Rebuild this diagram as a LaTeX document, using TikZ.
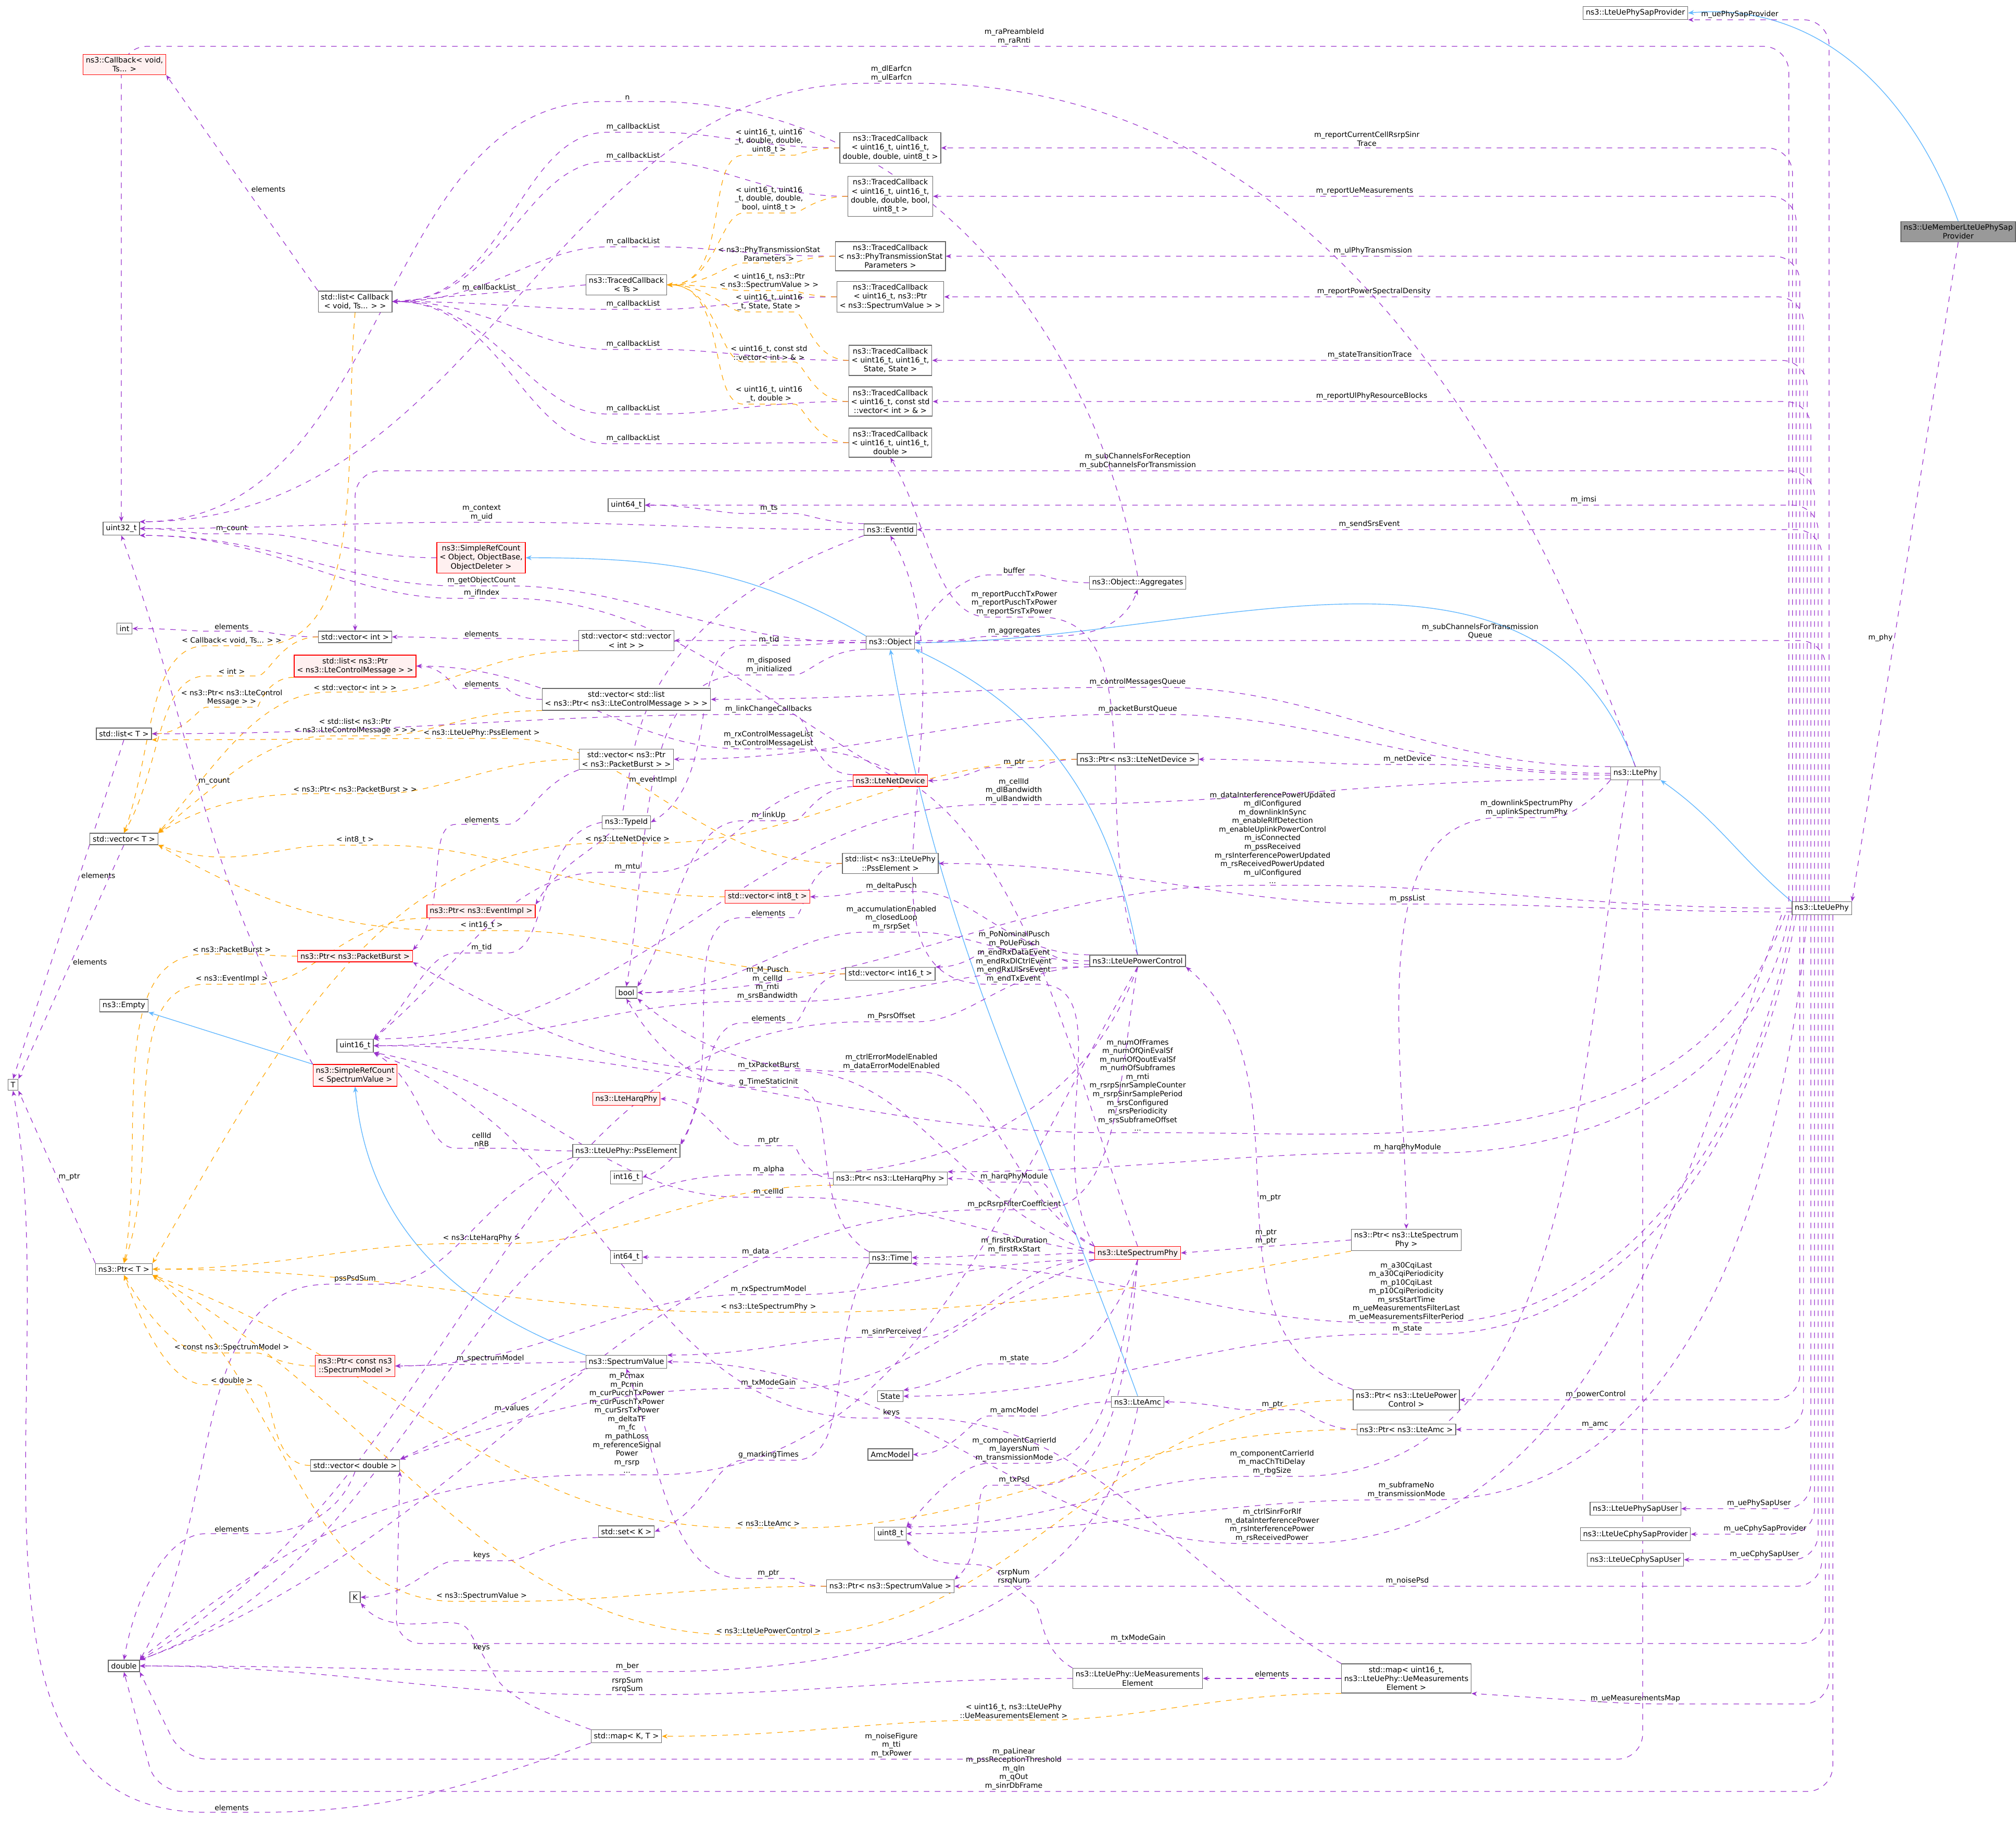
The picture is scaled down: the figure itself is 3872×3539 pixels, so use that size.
\documentclass[tikz,border=0pt]{standalone}
\usepackage{fontspec}
\setmainfont{DejaVu Sans}
\usetikzlibrary{arrows.meta,positioning,backgrounds}
\definecolor{usecol}{HTML}{9A32CD}
\definecolor{instcol}{HTML}{FFA500}
\definecolor{inhcol}{HTML}{63B8FF}
\tikzset{
  cls/.style={draw=black!60,fill=white,rectangle,inner sep=1.5pt,align=center,
    font=\fontsize{4.1}{4.9}\selectfont},
  redcls/.style={cls,draw=red,fill=red!6},
  graycls/.style={cls,fill=black!40},
  usee/.style={draw=usecol,dashed,-{Stealth[length=3pt,width=2.4pt]},line width=0.35pt,rounded corners=14pt},
  inst/.style={draw=instcol,dashed,-{Stealth[length=3pt,width=2.4pt]},line width=0.35pt,rounded corners=14pt},
  inh/.style={draw=inhcol,-{Stealth[length=3.2pt,width=2.6pt]},line width=0.4pt},
  lab/.style={font=\fontsize{4}{4.7}\selectfont,align=center,inner sep=0.8pt,text=black},
  leftward/.style={out=180,in=0}
}
\begin{document}
\catcode`\_=12
\begin{tikzpicture}[x=0.01cm,y=-0.01cm]
\useasboundingbox (0,0) rectangle (3872,3539);
% classes
\node[cls] (sapprov) at (3141,25) {ns3::LteUePhySapProvider};
\node[graycls] (member) at (3761,445) {ns3::UeMemberLteUePhySap\\Provider};
\node[redcls] (callback) at (239,124) {ns3::Callback< void,\\ Ts... >};
\node[cls] (tcbrsrp) at (1710,284) {ns3::TracedCallback\\< uint16_t, uint16_t,\\ double, double, uint8_t >};
\node[cls] (tcbmeas) at (1710,377) {ns3::TracedCallback\\< uint16_t, uint16_t,\\ double, double, bool,\\ uint8_t >};
\node[cls] (tcbtx) at (1710,492) {ns3::TracedCallback\\< ns3::PhyTransmissionStat\\Parameters >};
\node[cls] (tcbts) at (1203,547) {ns3::TracedCallback\\< Ts >};
\node[cls] (cblist) at (682,579) {std::list< Callback\\< void, Ts... > >};
\node[cls] (tcbpsd) at (1710,570) {ns3::TracedCallback\\< uint16_t, ns3::Ptr\\< ns3::SpectrumValue > >};
\node[cls] (tcbstate) at (1710,692) {ns3::TracedCallback\\< uint16_t, uint16_t,\\ State, State >};
\node[cls] (tcbvec) at (1710,771) {ns3::TracedCallback\\< uint16_t, const std\\::vector< int > \& >};
\node[cls] (tcbdbl) at (1710,850) {ns3::TracedCallback\\< uint16_t, uint16_t,\\ double >};
\node[cls] (uintsixfour) at (1203,970) {uint64_t};
\node[cls] (uintthirtytwo) at (233,1015) {uint32_t};
\node[cls] (eventid) at (1710,1017) {ns3::EventId};
\node[redcls] (refobj) at (924,1071) {ns3::SimpleRefCount\\< Object, ObjectBase,\\ ObjectDeleter >};
\node[cls] (aggr) at (2185,1119) {ns3::Object::Aggregates};
\node[cls] (int) at (239,1207) {int};
\node[cls] (vecint) at (682,1223) {std::vector< int >};
\node[cls] (vecvecint) at (1203,1230) {std::vector< std::vector\\< int > >};
\node[cls] (object) at (1710,1234) {ns3::Object};
\node[redcls] (listctrl) at (682,1279) {std::list< ns3::Ptr\\< ns3::LteControlMessage > >};
\node[cls] (veclistctrl) at (1203,1343) {std::vector< std::list\\< ns3::Ptr< ns3::LteControlMessage > > >};
\node[cls] (listt) at (238,1409) {std::list< T >};
\node[cls] (vecburst) at (1203,1458) {std::vector< ns3::Ptr\\< ns3::PacketBurst > >};
\node[cls] (ptrnetdev) at (2185,1458) {ns3::Ptr< ns3::LteNetDevice >};
\node[redcls] (netdev) at (1710,1499) {ns3::LteNetDevice};
\node[cls] (ltephy) at (3141,1485) {ns3::LtePhy};
\node[cls] (vect) at (238,1611) {std::vector< T >};
\node[cls] (typeid) at (1203,1579) {ns3::TypeId};
\node[cls] (listpss) at (1710,1658) {std::list< ns3::LteUePhy\\::PssElement >};
\node[redcls] (ptrevent) at (924,1750) {ns3::Ptr< ns3::EventImpl >};
\node[redcls] (vecinteight) at (1474,1722) {std::vector< int8_t >};
\node[cls] (uephy) at (3499,1744) {ns3::LteUePhy};
\node[cls] (empty) at (238,1931) {ns3::Empty};
\node[redcls] (ptrburst) at (682,1836) {ns3::Ptr< ns3::PacketBurst >};
\node[cls] (vecintsixteen) at (1710,1870) {std::vector< int16_t >};
\node[cls] (powerctrl) at (2185,1845) {ns3::LteUePowerControl};
\node[cls] (bool) at (1203,1906) {bool};
\node[cls] (uintsixteen) at (682,2008) {uint16_t};
\node[redcls] (refspec) at (682,2065) {ns3::SimpleRefCount\\< SpectrumValue >};
\node[cls] (t) at (25,2083) {T};
\node[redcls] (harq) at (1203,2110) {ns3::LteHarqPhy};
\node[cls] (psselem) at (1203,2210) {ns3::LteUePhy::PssElement};
\node[cls] (intsixteen) at (1203,2261) {int16_t};
\node[cls] (ptrharq) at (1710,2263) {ns3::Ptr< ns3::LteHarqPhy >};
\node[cls] (ptrt) at (238,2437) {ns3::Ptr< T >};
\node[cls] (intsixfour) at (1203,2414) {int64_t};
\node[cls] (time) at (1710,2415) {ns3::Time};
\node[redcls] (specphy) at (2185,2406) {ns3::LteSpectrumPhy};
\node[cls] (ptrspecphy) at (2701,2381) {ns3::Ptr< ns3::LteSpectrum\\Phy >};
\node[redcls] (ptrmodel) at (682,2623) {ns3::Ptr< const ns3\\::SpectrumModel >};
\node[cls] (specval) at (1203,2615) {ns3::SpectrumValue};
\node[cls] (state) at (1710,2681) {State};
\node[cls] (amc) at (2185,2692) {ns3::LteAmc};
\node[cls] (ptrpower) at (2701,2688) {ns3::Ptr< ns3::LteUePower\\Control >};
\node[cls] (amcmodel) at (1710,2793) {AmcModel};
\node[cls] (ptramc) at (2701,2745) {ns3::Ptr< ns3::LteAmc >};
\node[cls] (vecdouble) at (682,2814) {std::vector< double >};
\node[cls] (uinteight) at (1710,2945) {uint8_t};
\node[cls] (setk) at (1203,2941) {std::set< K >};
\node[cls] (sapuser) at (3141,2897) {ns3::LteUePhySapUser};
\node[cls] (cprov) at (3141,2946) {ns3::LteUeCphySapProvider};
\node[cls] (cuser) at (3141,2995) {ns3::LteUeCphySapUser};
\node[cls] (k) at (682,3067) {K};
\node[cls] (ptrspecval) at (1710,3046) {ns3::Ptr< ns3::SpectrumValue >};
\node[cls] (double) at (238,3199) {double};
\node[cls] (measelem) at (2185,3223) {ns3::LteUePhy::UeMeasurements\\Element};
\node[cls] (measmap) at (2701,3223) {std::map< uint16_t,\\ ns3::LteUePhy::UeMeasurements\\Element >};
\node[cls] (mapkt) at (1203,3334) {std::map< K, T >};
\begin{scope}[on background layer]
% inheritance
\draw[inh] (member.north) to[out=110,in=5] (sapprov.east);
\draw[inh] (uephy.north west) to[out=140,in=-35] (ltephy.south east);
\draw[inh] (ltephy.north) to[out=110,in=0] (object.east);
\draw[inh] (powerctrl.north) to[out=100,in=-25] (object.south east);
\draw[inh] (amc.north) to[out=110,in=-80] (object.south);
\draw[inh] (object.north west) to[out=150,in=0] (refobj.east);
\draw[inh] (refspec.north west) -- (empty.south east);
\draw[inh] (specval.north west) to[out=160,in=-85] (refspec.south);
% members of LteUePhy
\draw[usee] (member.south) -- node[lab,pos=0.6,left]{m_phy} (uephy.north east);
\draw[usee] ([xshift=4pt]uephy.north) |- node[lab,pos=0.96,above right]{m_uePhySapProvider} (sapprov.south east);
\draw[usee] ([xshift=-18pt]uephy.north) |- (1948,89) node[lab,above]{m_raPreambleId\\m_raRnti} -- (233,89) -- (uintthirtytwo.north);
\draw[usee] ([xshift=-16pt]uephy.north) |- node[lab,pos=0.75,above]{m_reportCurrentCellRsrpSinr\\Trace} (tcbrsrp.east);
\draw[usee] ([xshift=-14pt]uephy.north) |- node[lab,pos=0.75,above]{m_reportUeMeasurements} (tcbmeas.east);
\draw[usee] ([xshift=-12pt]uephy.north) |- node[lab,pos=0.75,above]{m_ulPhyTransmission} (tcbtx.east);
\draw[usee] ([xshift=-10pt]uephy.north) |- node[lab,pos=0.75,above]{m_reportPowerSpectralDensity} (tcbpsd.east);
\draw[usee] ([xshift=-8pt]uephy.north) |- node[lab,pos=0.75,above]{m_stateTransitionTrace} (tcbstate.east);
\draw[usee] ([xshift=-6pt]uephy.north) |- node[lab,pos=0.75,above]{m_reportUlPhyResourceBlocks} (tcbvec.east);
\draw[usee] ([xshift=-4pt]uephy.north) |- (2185,904) node[lab,above]{m_subChannelsForReception\\m_subChannelsForTransmission} -- (682,904) -- (vecint.north);
\draw[usee] ([xshift=-2pt]uephy.north) |- node[lab,pos=0.6,above]{m_imsi} (uintsixfour.east);
\draw[usee] ([xshift=0pt]uephy.north) |- node[lab,pos=0.75,above]{m_sendSrsEvent} (eventid.east);
\draw[usee] ([xshift=2pt]uephy.north) |- node[lab,pos=0.65,above]{m_subChannelsForTransmission\\Queue} (vecvecint.east);
\draw[usee] (uephy.west) to[leftward] (2444,1700) node[lab,above]{m_dataInterferencePowerUpdated\\m_dlConfigured\\m_downlinkInSync\\m_enableRlfDetection\\m_enableUplinkPowerControl\\m_isConnected\\m_pssReceived\\m_rsInterferencePowerUpdated\\m_rsReceivedPowerUpdated\\m_ulConfigured\\...} to[leftward] (bool.east);
\draw[usee] ([yshift=-2pt]uephy.west) to[leftward] (2703,1736) node[lab,above]{m_pssList} to[leftward] (listpss.east);
\draw[usee] ([xshift=-20pt]uephy.south) to[out=-110,in=0] (2185,2175) node[lab,above]{m_numOfFrames\\m_numOfQinEvalSf\\m_numOfQoutEvalSf\\m_numOfSubframes\\m_rnti\\m_rsrpSinrSampleCounter\\m_rsrpSinrSamplePeriod\\m_srsConfigured\\m_srsPeriodicity\\m_srsSubframeOffset\\...} to[leftward] (uintsixteen.east);
\draw[usee] ([xshift=-18pt]uephy.south) to[out=-100,in=0] (2703,2214) node[lab,above]{m_harqPhyModule} to[leftward] (ptrharq.north east);
\draw[usee] ([xshift=-16pt]uephy.south) to[out=-100,in=0] (2701,2540) node[lab,above]{m_a30CqiLast\\m_a30CqiPeriodicity\\m_p10CqiLast\\m_p10CqiPeriodicity\\m_srsStartTime\\m_ueMeasurementsFilterLast\\m_ueMeasurementsFilterPeriod} to[leftward] (time.south east);
\draw[usee] ([xshift=-14pt]uephy.south) to[out=-100,in=0] (2703,2562) node[lab,above]{m_state} to[leftward] (state.east);
\draw[usee] ([xshift=-12pt]uephy.south) |- node[lab,pos=0.8,above]{m_powerControl} (ptrpower.east);
\draw[usee] ([xshift=-10pt]uephy.south) |- node[lab,pos=0.8,above]{m_amc} (ptramc.east);
\draw[usee] ([xshift=-8pt]uephy.south) to[out=-95,in=0] (2701,2880) node[lab,above]{m_subframeNo\\m_transmissionMode} to[leftward] (uinteight.east);
\draw[usee] ([xshift=-6pt]uephy.south) |- node[lab,pos=0.7,above]{m_uePhySapUser} (sapuser.east);
\draw[usee] ([xshift=-4pt]uephy.south) |- node[lab,pos=0.7,above]{m_ueCphySapProvider} (cprov.east);
\draw[usee] ([xshift=-2pt]uephy.south) |- node[lab,pos=0.7,above]{m_ueCphySapUser} (cuser.east);
\draw[usee] ([xshift=0pt]uephy.south) |- (2703,3046) node[lab,above]{m_noisePsd} -- (ptrspecval.east);
\draw[usee] ([xshift=2pt]uephy.south) |- (2186,3156) node[lab,above]{m_txModeGain} -- (760,3156) -- (vecdouble.south east);
\draw[usee] ([xshift=4pt]uephy.south) |- (3141,3272) node[lab,above]{m_ueMeasurementsMap} -- (measmap.south east);
\draw[usee] ([xshift=6pt]uephy.south) |- (1947,3440) node[lab,above]{m_paLinear\\m_pssReceptionThreshold\\m_qIn\\m_qOut\\m_sinrDbFrame} -- (300,3440) -- (double.south);
\draw[usee] ([xshift=-22pt]uephy.south) to[out=-110,in=0] (2443,2964) node[lab,above]{m_ctrlSinrForRlf\\m_dataInterferencePower\\m_rsInterferencePower\\m_rsReceivedPower} to[leftward] (specval.east);
% members of LtePhy
\draw[usee] (ltephy.north) to[out=110,in=0] (1712,160) node[lab,above]{m_dlEarfcn\\m_ulEarfcn} to[leftward] (uintthirtytwo.north east);
\draw[usee] (ltephy.north west) to[leftward] (2185,1320) node[lab,above]{m_controlMessagesQueue} to[leftward] (veclistctrl.east);
\draw[usee] (ltephy.west) to[leftward] (2185,1372) node[lab,above]{m_packetBurstQueue} to[leftward] (vecburst.east);
\draw[usee] ([yshift=-1pt]ltephy.west) to[leftward] (2703,1468) node[lab,above]{m_netDevice} to[leftward] (ptrnetdev.east);
\draw[usee] (ltephy.south west) to[out=-130,in=0] (2932,1570) node[lab,above]{m_downlinkSpectrumPhy\\m_uplinkSpectrumPhy} to[out=180,in=90] (ptrspecphy.north);
\draw[usee] ([yshift=-3pt]ltephy.west) to[leftward] (1947,1545) node[lab,above]{m_cellId\\m_dlBandwidth\\m_ulBandwidth} to[leftward] (uintsixteen.north east);
\draw[usee] ([xshift=4pt]ltephy.south) |- (1712,3378) node[lab,above]{m_noiseFigure\\m_tti\\m_txPower} -- (350,3378) -- (double.south east);
\draw[usee] ([xshift=-4pt]ltephy.south) to[out=-100,in=0] (2443,2835) node[lab,above]{m_componentCarrierId\\m_macChTtiDelay\\m_rbgSize} to[leftward] (uinteight.north east);
% traced callbacks
\foreach \n/\y in {tcbrsrp/254,tcbmeas/310,tcbtx/474,tcbpsd/594,tcbstate/671,tcbvec/795,tcbdbl/852}
  \draw[usee] (\n.west) to[leftward] (1216,\y) node[lab,above]{m_callbackList} to[leftward] (cblist.east);
\draw[usee] (tcbts.west) -- node[lab,above]{m_callbackList} (cblist.east);
\draw[inst] (tcbrsrp.west) to[leftward] (1477,298) node[lab,above]{< uint16_t, uint16\\_t, double, double,\\ uint8_t >} to[leftward] (tcbts.east);
\draw[inst] (tcbmeas.west) to[leftward] (1477,409) node[lab,above]{< uint16_t, uint16\\_t, double, double,\\ bool, uint8_t >} to[leftward] (tcbts.east);
\draw[inst] (tcbtx.west) to[leftward] (1477,505) node[lab,above]{< ns3::PhyTransmissionStat\\Parameters >} to[leftward] (tcbts.east);
\draw[inst] (tcbpsd.west) to[leftward] (1477,558) node[lab,above]{< uint16_t, ns3::Ptr\\< ns3::SpectrumValue > >} to[leftward] (tcbts.east);
\draw[inst] (tcbstate.west) to[leftward] (1477,599) node[lab,above]{< uint16_t, uint16\\_t, State, State >} to[leftward] (tcbts.east);
\draw[inst] (tcbvec.west) to[leftward] (1477,695) node[lab,above]{< uint16_t, const std\\::vector< int > \& >} to[leftward] (tcbts.east);
\draw[inst] (tcbdbl.west) to[leftward] (1477,776) node[lab,above]{< uint16_t, uint16\\_t, double >} to[leftward] (tcbts.east);
\draw[usee] (cblist.north west) -- node[lab,pos=0.45,above right]{elements} (callback.south east);
\draw[inst] (cblist.south) to[out=-95,in=0] (445,1240) node[lab,above]{< Callback< void, Ts... > >} to[out=180,in=70] (vect.north);
% base types
\draw[usee] (refobj.west) to[leftward] (445,1025) node[lab,above]{m_count} to[leftward] (uintthirtytwo.east);
\draw[usee] (object.west) to[leftward] (925,1125) node[lab,above]{m_getObjectCount} to[leftward] (uintthirtytwo.south east);
\draw[usee] (eventid.west) to[leftward] (925,1003) node[lab,above]{m_context\\m_uid} to[leftward] (uintthirtytwo.east);
\draw[usee] (eventid.north west) to[leftward] (1477,986) node[lab,above]{m_ts} to[leftward] (uintsixfour.east);
\draw[usee] (eventid.south west) to[out=200,in=80] (1205,1508) node[lab,above right]{m_eventImpl} to[out=-100,in=60] (ptrevent.north east);
\draw[usee] (object.east) to[out=0,in=180] (1948,1222) node[lab,above]{m_aggregates} to[out=0,in=-110] (aggr.south);
\draw[usee] (aggr.west) to[leftward] (1948,1104) node[lab,above]{buffer} to[out=180,in=60] (object.north east);
\draw[usee] (aggr.north) to[out=100,in=0] (1205,195) node[lab,above]{n} to[leftward] (uintthirtytwo.north east);
\draw[usee] (vecint.west) to[leftward] (445,1212) node[lab,above]{elements} to[leftward] (int.east);
\draw[inst] (vecint.west) to[leftward] (445,1298) node[lab,above]{< int >} to[out=180,in=60] (vect.north);
\draw[usee] (vecvecint.west) to[leftward] (925,1226) node[lab,above]{elements} to[leftward] (vecint.east);
\draw[inst] (vecvecint.south west) to[leftward] (682,1329) node[lab,above]{< std::vector< int > >} to[out=180,in=50] (vect.north east);
\draw[usee] (veclistctrl.west) to[leftward] (925,1322) node[lab,above]{elements} to[leftward] (listctrl.east);
\draw[inst] (listctrl.south west) to[leftward] (445,1358) node[lab,above]{< ns3::Ptr< ns3::LteControl\\Message > >} to[leftward] (listt.east);
\draw[inst] (veclistctrl.south west) to[leftward] (682,1413) node[lab,above]{< std::list< ns3::Ptr\\< ns3::LteControlMessage > > >} to[out=180,in=40] (vect.north east);
\draw[usee] (object.south west) to[leftward] (1477,1296) node[lab,above]{m_disposed\\m_initialized} to[out=180,in=80] (bool.north);
\draw[usee] (object.west) to[leftward] (1477,1239) node[lab,above]{m_tid} to[out=180,in=30] (typeid.east);
\draw[usee] (typeid.west) to[out=190,in=0] (925,1830) node[lab,above]{m_tid} to[out=180,in=45] (uintsixteen.north east);
\draw[usee] (vecburst.south west) to[out=200,in=0] (925,1583) node[lab,above]{elements} to[out=180,in=50] (ptrburst.north east);
\draw[inst] (vecburst.west) to[leftward] (682,1524) node[lab,above]{< ns3::Ptr< ns3::PacketBurst > >} to[out=180,in=30] (vect.north east);
\draw[usee] (ptrnetdev.west) to[leftward] (1948,1474) node[lab,above]{m_ptr} to[leftward] (netdev.east);
\draw[inst] (ptrnetdev.west) to[leftward] (1205,1619) node[lab,above]{< ns3::LteNetDevice >} to[out=180,in=60] (ptrt.north east);
\draw[usee] (netdev.south west) to[leftward] (1476,1576) node[lab,above]{m_linkUp} to[out=180,in=60] (bool.north east);
\draw[usee] (netdev.west) to[leftward] (1205,1675) node[lab,above]{m_mtu} to[out=180,in=40] (uintsixteen.north east);
\draw[usee] (netdev.north west) to[leftward] (1476,1372) node[lab,above]{m_linkChangeCallbacks} to[leftward] (listt.east);
\draw[usee] (netdev.north) to[out=150,in=0] (925,1149) node[lab,above]{m_ifIndex} to[leftward] (uintthirtytwo.south east);
\draw[usee] (listt.south) -- node[lab,pos=0.4,right]{elements} (t.north);
\draw[usee] (vect.south) -- node[lab,pos=0.5,right]{elements} (t.north east);
\draw[usee] (ptrt.north west) -- node[lab,pos=0.5,right]{m_ptr} (t.south east);
\draw[usee] (listpss.west) to[leftward] (1476,1762) node[lab,above]{elements} to[out=180,in=60] (psselem.north east);
\draw[inst] (listpss.west) to[leftward] (925,1418) node[lab,above]{< ns3::LteUePhy::PssElement >} to[leftward] (listt.south east);
\draw[usee] (psselem.west) to[leftward] (925,2205) node[lab,above]{cellId\\nRB} to[out=180,in=-30] (uintsixteen.south east);
\draw[usee] (psselem.south west) to[out=200,in=0] (682,2466) node[lab,above]{pssPsdSum} to[out=180,in=60] (double.north east);
\draw[inst] (vecinteight.west) to[leftward] (682,1623) node[lab,above]{< int8_t >} to[out=180,in=-20] (vect.south east);
\draw[usee] (vecintsixteen.west) to[leftward] (1476,1964) node[lab,above]{elements} to[out=180,in=20] (intsixteen.east);
\draw[inst] (vecintsixteen.west) to[leftward] (925,1787) node[lab,above]{< int16_t >} to[out=180,in=-30] (vect.south east);
\draw[inst] (ptrburst.west) to[leftward] (445,1832) node[lab,above]{< ns3::PacketBurst >} to[out=180,in=80] (ptrt.north);
\draw[inst] (ptrevent.south west) to[leftward] (445,1890) node[lab,above]{< ns3::EventImpl >} to[out=180,in=70] (ptrt.north);
\draw[usee] (refspec.north west) to[out=120,in=-70] node[lab,pos=0.55,right]{m_count} (uintthirtytwo.south);
% power control
\draw[usee] (powerctrl.north west) to[leftward] (1712,1712) node[lab,above]{m_deltaPusch} to[leftward] (vecinteight.east);
\draw[usee] (powerctrl.west) to[leftward] (1712,1790) node[lab,above]{m_accumulationEnabled\\m_closedLoop\\m_rsrpSet} to[leftward] (bool.east);
\draw[usee] ([yshift=-2pt]powerctrl.west) to[leftward] (1948,1822) node[lab,above]{m_PoNominalPusch\\m_PoUePusch} to[leftward] (vecintsixteen.north east);
\draw[usee] (powerctrl.south west) to[leftward] (1474,1923) node[lab,above]{m_M_Pusch\\m_cellId\\m_rnti\\m_srsBandwidth} to[leftward] (uintsixteen.east);
\draw[usee] (powerctrl.south) to[out=-120,in=0] (1204,2832) node[lab,above]{m_Pcmax\\m_Pcmin\\m_curPucchTxPower\\m_curPuschTxPower\\m_curSrsTxPower\\m_deltaTF\\m_fc\\m_pathLoss\\m_referenceSignal\\Power\\m_rsrp\\...} to[out=180,in=40] (double.north east);
\draw[usee] (powerctrl.north) to[out=110,in=0] (1948,1185) node[lab,above]{m_reportPucchTxPower\\m_reportPuschTxPower\\m_reportSrsTxPower} to[out=180,in=-60] (tcbdbl.south);
\draw[usee] (powerctrl.south west) to[leftward] (1712,1962) node[lab,above]{m_PsrsOffset} to[out=180,in=30] (double.north east);
\draw[usee] (powerctrl.south) to[out=-110,in=0] (1476,2256) node[lab,above]{m_alpha} to[out=180,in=20] (double.north east);
\draw[usee] (powerctrl.south) to[out=-100,in=0] (1948,2323) node[lab,above]{m_pcRsrpFilterCoefficient} to[out=180,in=20] (double.north east);
% spectrum phy
\draw[usee] (specphy.west) to[out=160,in=0] (1476,2056) node[lab,above]{m_txPacketBurst} to[out=180,in=-30] (ptrburst.south east);
\draw[usee] (specphy.north west) to[out=150,in=0] (1712,2058) node[lab,above]{m_ctrlErrorModelEnabled\\m_dataErrorModelEnabled} to[out=180,in=-40] (bool.south east);
\draw[usee] (specphy.west) to[out=170,in=0] (1476,2299) node[lab,above]{m_cellId} to[out=180,in=-10] (uintsixteen.south east);
\draw[usee] (specphy.north west) to[out=160,in=0] (1948,2270) node[lab,above]{m_harqPhyModule} to[leftward] (ptrharq.east);
\draw[usee] (specphy.west) to[leftward] (1948,2410) node[lab,above]{m_firstRxDuration\\m_firstRxStart} to[leftward] (time.east);
\draw[usee] (specphy.south west) to[leftward] (1476,2486) node[lab,above]{m_rxSpectrumModel} to[leftward] (ptrmodel.east);
\draw[usee] (specphy.south west) to[leftward] (1712,2568) node[lab,above]{m_sinrPerceived} to[leftward] (specval.north east);
\draw[usee] (specphy.south) to[out=-110,in=0] (1948,2619) node[lab,above]{m_state} to[out=180,in=10] (state.north east);
\draw[usee] (specphy.south west) to[out=200,in=0] (1476,2666) node[lab,above]{m_txModeGain} to[out=180,in=20] (vecdouble.north east);
\draw[usee] (specphy.north) to[out=110,in=0] (1476,1438) node[lab,above]{m_rxControlMessageList\\m_txControlMessageList} to[leftward] (listctrl.east);
\draw[usee] (specphy.north west) to[out=120,in=0] (1947,1890) node[lab,above]{m_endRxDataEvent\\m_endRxDlCtrlEvent\\m_endRxUlSrsEvent\\m_endTxEvent} to[out=180,in=-60] (eventid.south);
\draw[usee] (specphy.south) to[out=-100,in=0] (1948,2810) node[lab,above]{m_componentCarrierId\\m_layersNum\\m_transmissionMode} to[out=180,in=50] (uinteight.north east);
\draw[usee] (specphy.south) to[out=-95,in=0] (1948,2852) node[lab,above]{m_txPsd} to[out=180,in=40] (ptrspecval.north east);
\draw[usee] (ptrharq.west) to[leftward] (1476,2200) node[lab,above]{m_ptr} to[leftward] (harq.east);
\draw[inst] (ptrharq.south west) to[leftward] (925,2388) node[lab,above]{< ns3::LteHarqPhy >} to[leftward] (ptrt.east);
\draw[usee] (time.west) -- node[lab,above]{m_data} (intsixfour.east);
\draw[usee] (time.south west) to[out=-120,in=0] (1476,2804) node[lab,above]{g_markingTimes} to[out=180,in=20] (setk.east);
\draw[usee] (time.north west) to[out=150,in=0] (1476,2088) node[lab,above]{g_TimeStaticInit} to[out=180,in=-60] (bool.south);
\draw[usee] (ptrspecphy.west) -- node[lab,above]{m_ptr\\m_ptr} (specphy.east);
\draw[inst] (ptrspecphy.south west) to[out=190,in=0] (1476,2520) node[lab,above]{< ns3::LteSpectrumPhy >} to[leftward] (ptrt.east);
\draw[inst] (ptrmodel.west) to[leftward] (445,2598) node[lab,above]{< const ns3::SpectrumModel >} to[out=180,in=-60] (ptrt.south);
\draw[usee] (specval.west) -- node[lab,above]{m_spectrumModel} (ptrmodel.east);
\draw[usee] (specval.south west) -- node[lab,pos=0.5,above right]{m_values} (vecdouble.north east);
\draw[usee] (amc.west) to[leftward] (1948,2719) node[lab,above]{m_amcModel} to[leftward] (amcmodel.east);
\draw[usee] (amc.south) to[out=-100,in=0] (1205,3210) node[lab,above]{m_ber} to[leftward] (double.east);
\draw[usee] (ptrpower.north west) to[out=160,in=-40] node[lab,pos=0.5,right]{m_ptr} (powerctrl.south east);
\draw[inst] (ptrpower.west) to[leftward] (1476,3140) node[lab,above]{< ns3::LteUePowerControl >} to[out=180,in=-30] (ptrt.south east);
\draw[usee] (ptramc.west) to[leftward] (2444,2707) node[lab,above]{m_ptr} to[leftward] (amc.east);
\draw[inst] (ptramc.west) to[leftward] (1476,2934) node[lab,above]{< ns3::LteAmc >} to[out=180,in=-20] (ptrt.south east);
\draw[usee] (vecdouble.south) to[out=-110,in=0] (445,2945) node[lab,above]{elements} to[out=180,in=80] (double.north);
\draw[inst] (vecdouble.west) to[leftward] (445,2659) node[lab,above]{< double >} to[out=180,in=-70] (ptrt.south);
\draw[usee] (setk.south west) to[leftward] (925,2997) node[lab,above]{keys} to[leftward] (k.east);
\draw[usee] (mapkt.north west) to[out=160,in=-60] (925,3174) node[lab,above]{keys} to[out=120,in=-50] (k.south east);
\draw[usee] (mapkt.south west) to[out=200,in=0] (445,3480) node[lab,above]{elements} to[out=180,in=-80] (t.south);
\draw[usee] (ptrspecval.west) to[leftward] (1476,3031) node[lab,above]{m_ptr} to[out=180,in=-70] (specval.south);
\draw[inst] (ptrspecval.west) to[leftward] (925,3075) node[lab,above]{< ns3::SpectrumValue >} to[out=180,in=-40] (ptrt.south east);
\draw[usee] (measelem.west) to[leftward] (1205,3254) node[lab,above]{rsrpSum\\rsrqSum} to[leftward] (double.east);
\draw[usee] (measelem.north west) to[out=150,in=-40] (1947,3046) node[lab,above]{rsrpNum\\rsrqNum} to[out=140,in=-50] (uinteight.south east);
\draw[usee] (measmap.west) -- node[lab,above]{elements} (measelem.east);
\draw[usee] (measmap.north west) to[out=150,in=0] (1712,2723) node[lab,above]{keys} to[out=180,in=-20] (uintsixteen.south east);
\draw[inst] (measmap.south west) to[leftward] (1947,3303) node[lab,above]{< uint16_t, ns3::LteUePhy\\::UeMeasurementsElement >} to[leftward] (mapkt.east);
\end{scope}
\end{tikzpicture}
\end{document}
